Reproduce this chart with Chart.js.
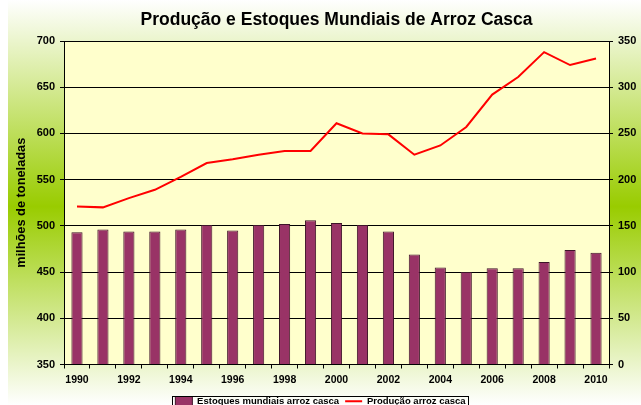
<!DOCTYPE html>
<html><head><meta charset="utf-8">
<style>html,body{margin:0;padding:0;overflow:hidden;background:#fff}canvas{display:block}</style>
<script src="https://cdn.jsdelivr.net/npm/chart.js@4.4.0/dist/chart.umd.min.js"></script>
</head><body>
<canvas id="c" width="641" height="416"></canvas>
<script>
const years = ['1990','1991','1992','1993','1994','1995','1996','1997','1998','1999','2000','2001','2002','2003','2004','2005','2006','2007','2008','2009','2010'];
const production = [521, 520, 530, 539, 553, 568, 572, 577, 581, 581, 611, 600, 599, 577, 587, 607, 642, 661, 688, 674, 681];
const stocks = [143, 146, 144, 144, 146, 151, 145, 151, 152, 156, 153, 151, 144, 119, 105, 100, 104, 104, 111, 124, 121];
const leftAxis = {min: 350, max: 700, step: 50};
const rightAxis = {min: 0, max: 350, step: 50};
const titleText = 'Produção e Estoques Mundiais de Arroz Casca';
const yTitle = 'milhões de toneladas';
const stockLabel = 'Estoques mundiais arroz casca';
const prodLabel = 'Produção arroz casca';

const FONT = 'Arial, "Liberation Sans", sans-serif';

const bgPlugin = {
  id: 'bg',
  beforeDraw(chart) {
    const ctx = chart.ctx, ca = chart.chartArea;
    ctx.save();
    ctx.fillStyle = '#ffffff';
    ctx.fillRect(0, 0, chart.width, chart.height);
    const g = ctx.createLinearGradient(0, 0, 0, 405);
    g.addColorStop(0, '#ffffff');
    g.addColorStop(0.51, '#99cc00');
    g.addColorStop(1, '#ffffff');
    ctx.fillStyle = g;
    ctx.fillRect(8, 0, chart.width - 8, chart.height);
    ctx.fillStyle = '#ffffcc';
    ctx.fillRect(ca.left, ca.top, ca.right - ca.left, ca.bottom - ca.top);
    ctx.restore();
  },
  afterDraw(chart) {
    const hb = chart.legend && chart.legend.legendHitBoxes;
    if (!hb || !hb.length) return;
    const ctx = chart.ctx;
    const l = Math.min(...hb.map(h => h.left));
    const r = Math.max(...hb.map(h => h.left + h.width));
    const t = Math.min(...hb.map(h => h.top));
    const b = Math.max(...hb.map(h => h.top + h.height));
    ctx.save();
    ctx.strokeStyle = '#000';
    ctx.lineWidth = 1;
    ctx.strokeRect(Math.round(l - 3) + 0.5, Math.round(t - 1) + 0.5, Math.round(r - l + 6), Math.round(b - t + 6));
    ctx.restore();
  }
};

new Chart(document.getElementById('c'), {
  type: 'bar',
  data: {
    labels: years,
    datasets: [
      {
        type: 'bar', label: stockLabel, data: stocks, yAxisID: 'y1',
        backgroundColor: '#993366', borderColor: '#3f1529', borderWidth: 1,
        barPercentage: 0.43, categoryPercentage: 1, pointStyle: 'rect'
      },
      {
        type: 'line', label: prodLabel, data: production, yAxisID: 'y',
        borderColor: '#ff0000', backgroundColor: '#ff0000', borderWidth: 2,
        pointRadius: 0, tension: 0, fill: false, pointStyle: 'line'
      }
    ]
  },
  options: {
    responsive: false,
    animation: false,
    layout: {padding: 0},
    plugins: {
      tooltip: {enabled: false},
      title: {
        display: true, text: titleText, fullSize: false, color: '#000',
        font: {family: FONT, size: 17.5, weight: 'bold'},
        padding: {top: 10, bottom: 10}
      },
      legend: {
        position: 'bottom',
        labels: {
          usePointStyle: true, pointStyleWidth: 17, color: '#000', padding: 6,
          font: {family: FONT, size: 9.5, weight: 'bold'}
        }
      }
    },
    scales: {
      x: {
        type: 'category', offset: true,
        grid: {offset: true, drawOnChartArea: false, tickLength: 4, color: '#000'},
        border: {color: '#000', width: 1},
        ticks: {
          autoSkip: false, maxRotation: 0, minRotation: 0, padding: 5, color: '#000',
          font: {family: FONT, size: 10.5, weight: 'bold'},
          callback: (v, i) => (i % 2 === 0 ? years[i] : '')
        },
        afterFit(s) { s.height = 26; }
      },
      y: {
        position: 'left', min: leftAxis.min, max: leftAxis.max,
        grid: {color: '#000', lineWidth: 1, tickLength: 4},
        border: {color: '#000', width: 1},
        ticks: {stepSize: leftAxis.step, padding: 5, color: '#000', font: {family: FONT, size: 11, weight: 'bold'}},
        title: {display: true, text: yTitle, color: '#000', font: {family: FONT, size: 12.8, weight: 'bold'}, padding: {top: 14, bottom: 0}},
        afterFit(s) { s.width = 64; }
      },
      y1: {
        position: 'right', min: rightAxis.min, max: rightAxis.max,
        grid: {drawOnChartArea: false, color: '#000', tickLength: 4},
        border: {color: '#000', width: 1},
        ticks: {stepSize: rightAxis.step, padding: 5, color: '#000', font: {family: FONT, size: 11, weight: 'bold'}},
        afterFit(s) { s.width = 32; }
      }
    }
  },
  plugins: [bgPlugin]
});
</script>
</body></html>
